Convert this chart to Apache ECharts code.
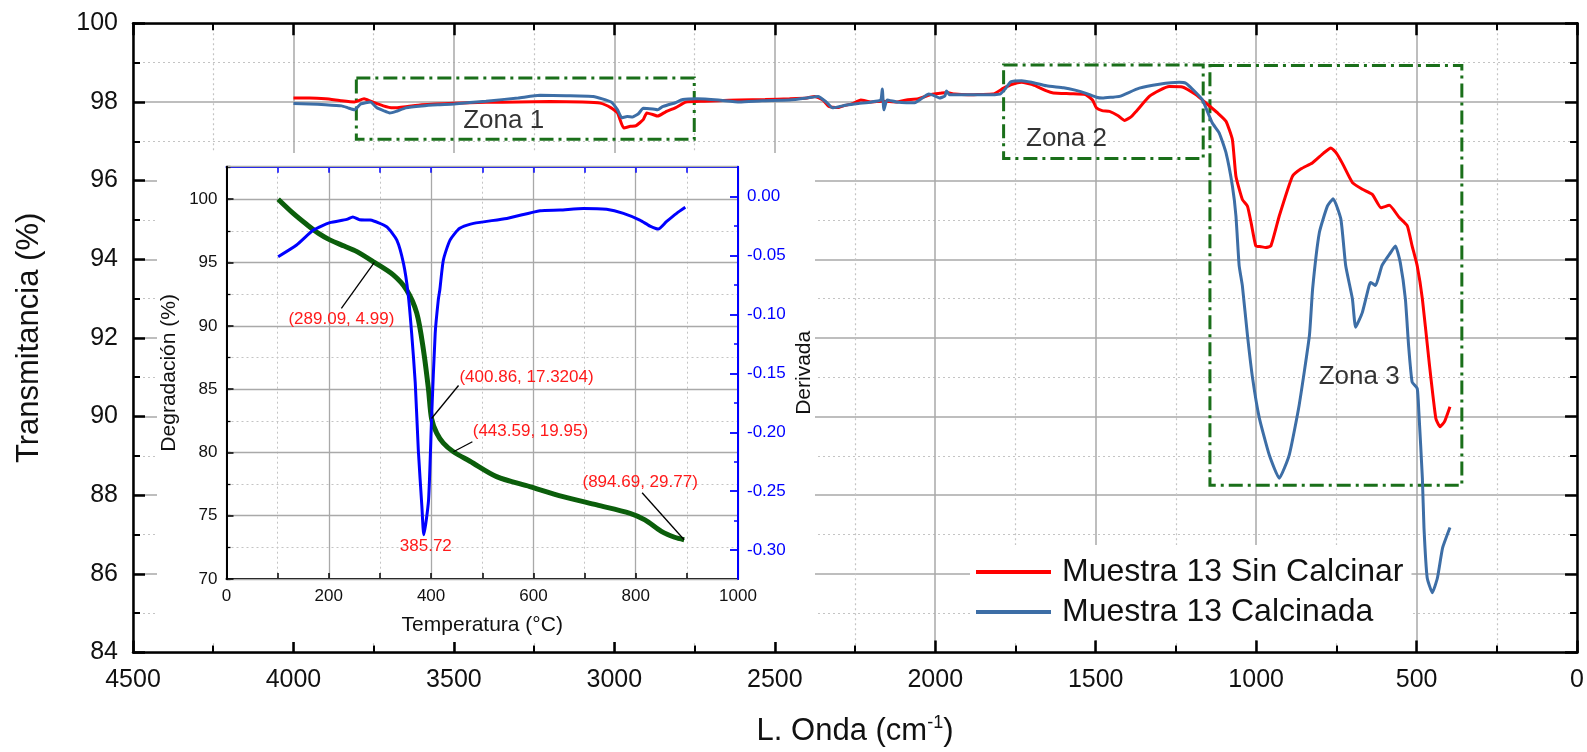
<!DOCTYPE html>
<html>
<head>
<meta charset="utf-8">
<script src="https://cdn.jsdelivr.net/npm/echarts@6/dist/echarts.min.js"></script>
<style>
  html, body { margin: 0; padding: 0; background: #fff; }
  #chart { width: 1587px; height: 752px; }
</style>
</head>
<body>
<div id="chart"></div>
<script>
// ---------- FTIR spectra (wavenumber cm-1, transmittance %) ----------
const seriesNames = ['Muestra 13 Sin Calcinar', 'Muestra 13 Calcinada'];

const waveRed = [4000, 3950, 3900, 3850, 3810, 3780, 3760, 3720, 3690, 3650, 3600, 3500, 3400, 3300, 3200, 3100,
  3044, 3010, 2990, 2971, 2950, 2932, 2910, 2899, 2880, 2865, 2840, 2810, 2777, 2720, 2676, 2610, 2530, 2454,
  2400, 2376, 2350, 2332, 2300, 2287, 2260, 2232, 2200, 2165, 2121, 2090, 2053, 2009, 1985, 1965, 1940, 1898,
  1860, 1820, 1787, 1760, 1731, 1697, 1653, 1632, 1580, 1532, 1510, 1498, 1480, 1457, 1430, 1410, 1390, 1374,
  1333, 1300, 1271, 1230, 1187, 1156, 1120, 1094, 1074, 1063, 1043, 1027, 1015, 1001, 985, 970, 954, 928, 887,
  860, 825, 790, 767, 750, 732, 700, 669, 638, 611, 585, 554, 529, 514, 498, 482, 461, 440, 427, 413, 396];
const transRed = [98.10, 98.10, 98.08, 98.03, 98.00, 98.08, 98.02, 97.90, 97.85, 97.88, 97.93, 97.97, 97.99, 98.00, 98.01, 98.00,
  97.97, 97.85, 97.72, 97.34, 97.38, 97.40, 97.55, 97.72, 97.68, 97.64, 97.75, 97.85, 98.00, 98.02, 98.03, 98.05, 98.06, 98.08,
  98.10, 98.14, 98.05, 97.89, 97.86, 97.90, 97.95, 98.05, 98.00, 98.02, 98.00, 98.05, 98.08, 98.20, 98.22, 98.24, 98.20, 98.18,
  98.19, 98.20, 98.35, 98.45, 98.50, 98.44, 98.28, 98.23, 98.21, 98.19, 98.05, 97.85, 97.78, 97.76, 97.65, 97.53, 97.62, 97.76,
  98.14, 98.30, 98.39, 98.38, 98.18, 97.97, 97.72, 97.51, 97.04, 96.11, 95.52, 95.35, 94.90, 94.34, 94.32, 94.30, 94.34, 95.10, 96.11,
  96.30, 96.45, 96.70, 96.83, 96.70, 96.45, 95.95, 95.78, 95.65, 95.31, 95.37, 95.06, 94.85, 94.34, 93.83, 92.99, 91.39, 89.95, 89.74, 89.87, 90.25];

const waveBlue = [4000, 3950, 3900, 3850, 3830, 3810, 3790, 3760, 3740, 3720, 3700, 3680, 3650, 3600, 3550, 3500, 3400, 3300,
  3232, 3150, 3066, 3010, 2990, 2977, 2960, 2943, 2925, 2910, 2880, 2865, 2850, 2832, 2810, 2787, 2743, 2676, 2610, 2540,
  2454, 2400, 2365, 2340, 2320, 2300, 2276, 2240, 2199, 2170, 2165, 2160, 2150, 2121, 2090, 2064, 2040, 2020, 2000, 1987,
  1970, 1965, 1955, 1898, 1850, 1798, 1780, 1765, 1731, 1700, 1653, 1600, 1564, 1530, 1498, 1479, 1450, 1426, 1364, 1302,
  1240, 1220, 1199, 1168, 1137, 1115, 1094, 1074, 1063, 1053, 1043, 1027, 1011, 990, 959, 928, 897, 866, 834, 824, 803,
  778, 760, 736, 721, 700, 690, 669, 648, 643, 628, 608, 581, 566, 551, 535, 525, 514, 498, 493, 482, 477, 467, 451,
  435, 419, 396];
const transBlue = [97.96, 97.95, 97.93, 97.90, 97.85, 97.80, 97.95, 98.00, 97.85, 97.78, 97.72, 97.76, 97.85, 97.90, 97.93, 97.95, 98.02, 98.10,
  98.17, 98.16, 98.14, 98.00, 97.80, 97.60, 97.63, 97.62, 97.70, 97.84, 97.82, 97.80, 97.88, 97.93, 97.98, 98.06, 98.08, 98.05, 98.00, 98.03,
  98.05, 98.10, 98.14, 98.00, 97.85, 97.88, 97.92, 97.96, 98.00, 98.05, 98.33, 97.80, 98.05, 98.00, 97.98, 97.98, 98.10, 98.20, 98.15, 98.10,
  98.15, 98.28, 98.18, 98.18, 98.18, 98.20, 98.35, 98.51, 98.54, 98.50, 98.41, 98.36, 98.30, 98.22, 98.12, 98.10, 98.12, 98.14, 98.35, 98.45,
  98.50, 98.48, 98.33, 98.06, 97.47, 97.21, 96.71, 95.86, 95.10, 93.84, 93.33, 92.06, 90.97, 89.96, 89.02, 88.43, 89.02, 90.29, 92.06, 93.25, 94.68,
  95.35, 95.54, 95.02, 93.84, 92.99, 92.27, 92.65, 93.33, 93.41, 93.33, 93.84, 94.17, 94.34, 93.92, 92.99, 91.81, 90.88, 90.71, 90.12, 88.43, 87.17, 85.90, 85.52,
  85.90, 86.66, 87.18];

// Spectral zones (dash-dot boxes) and their captions
const zoneNames = ['Zona 1', 'Zona 2', 'Zona 3'];
const zoneWaveFrom = [3804, 1787, 1144];
const zoneWaveTo = [2751, 1165, 359];
const zoneTransLow = [97.05, 96.56, 88.25];
const zoneTransHigh = [98.61, 98.94, 98.93];
const zoneLabelWave = [3345, 1591, 679];
const zoneLabelTrans = [97.53, 97.07, 91.02];

// ---------- TGA inset (temperature °C) ----------
const tempDeg = [101, 130, 157, 180, 202, 230, 255, 289.09, 326, 352, 372, 385, 395, 400.86, 411, 424, 443.59,
  476, 528, 593, 658, 724, 789, 818, 851, 876, 894.69];
const degradacion = [100, 98.9, 98.0, 97.3, 96.79, 96.3, 95.86, 95.01, 94.02, 92.84, 91.0, 88.1, 84.94, 82.68, 81.52, 80.73, 80.05,
  79.3, 78.09, 77.3, 76.51, 75.85, 75.19, 74.67, 73.74, 73.3, 73.1];

const tempDeriv = [101, 137, 170, 202, 235, 247, 260, 281, 313, 333, 346, 355, 362, 369, 375, 382, 385.72, 395, 401, 408, 414,
  417, 424, 437, 456, 483, 548, 613, 652, 698, 743, 776, 808, 828, 844, 860, 880, 897];
const derivada = [-0.0509, -0.041, -0.0283, -0.022, -0.0192, -0.0171, -0.0195, -0.0198, -0.0255, -0.0368, -0.0566, -0.082, -0.116,
  -0.158, -0.215, -0.263, -0.287, -0.2575, -0.187, -0.116, -0.0877, -0.0792, -0.0537, -0.0368, -0.0268, -0.0226, -0.0184, -0.0119,
  -0.0113, -0.0099, -0.0107, -0.0141, -0.0198, -0.0249, -0.0274, -0.0212, -0.0141, -0.009];

const derivTicks = [0, -0.05, -0.10, -0.15, -0.20, -0.25, -0.30];
const derivMinorTicks = [-0.025, -0.075, -0.125, -0.175, -0.225, -0.275];

// Mass-loss callouts: temperature and loss (%)
const annTemp = [289.09, 400.86, 443.59, 894.69];
const annLossText = ['4.99', '17.3204', '19.95', '29.77'];

// ---------- layout / styling ----------
const FONT = '"Liberation Sans", Arial, Helvetica, sans-serif';
const RED = '#ff0000', STEEL = '#3d6ea6', GREEN = '#0b5e0b', BLUE = '#0000ff', ZONE = '#1a6f1a';
const MAJOR_GRID = '#a9a9a9', MINOR_GRID = '#c4c4c4';
// label/leader offsets (px) relative to the point each callout refers to
const calloutLayout = [
  { tx: -33, ty: 57, lx: -33, ly: 46 },
  { tx: 95, ty: -41, lx: 27, ly: -33 },
  { tx: 77, ty: -20, lx: 19, ly: -10 },
  { tx: -44, ty: -57, lx: -42, ly: -47 }
];

const zip = (a, b) => a.map((v, i) => [v, b[i]]);
const plain = v => String(v);

const chart = echarts.init(document.getElementById('chart'), null, { renderer: 'canvas' });

const mainTick = { inside: true, length: 12, lineStyle: { color: '#000', width: 2.5 } };
const mainMinorTick = { show: true, splitNumber: 2, length: 7, lineStyle: { color: '#000', width: 2 } };
const mainSplit = { show: true, lineStyle: { color: MAJOR_GRID, width: 1.5 } };
const mainMinorSplit = { show: true, lineStyle: { color: MINOR_GRID, width: 1.2, type: [2, 3] } };
const mainLine = { show: true, onZero: false, lineStyle: { color: '#000', width: 2.5 } };

const insetGrid = { left: 226.5, top: 166.7, width: 511.5, height: 412.3 };
const insetYMin = 70, insetYMax = 102.57;
const derivMin = -0.3245, derivMax = 0.0255;

const option = {
  backgroundColor: '#fff',
  animation: false,
  textStyle: { fontFamily: FONT },
  grid: [
    { left: 133, right: 9, top: 23.3, bottom: 97, containLabel: false },
    Object.assign({ containLabel: false }, insetGrid)
  ],
  legend: {
    data: seriesNames,
    orient: 'vertical',
    left: 970, top: 545,
    backgroundColor: '#fff',
    padding: [9, 8, 10, 6],
    icon: 'rect',
    itemWidth: 75, itemHeight: 4, itemGap: 4,
    textStyle: { fontSize: 32, fontFamily: FONT, color: '#111', lineHeight: 36, padding: [0, 0, 0, 6] }
  },
  xAxis: [
    {
      type: 'value', gridIndex: 0, min: 0, max: 4500, interval: 500, inverse: true, position: 'bottom',
      axisLine: mainLine, axisTick: mainTick, minorTick: mainMinorTick,
      splitLine: mainSplit, minorSplitLine: mainMinorSplit,
      axisLabel: { fontSize: 25, margin: 15, color: '#111', fontFamily: FONT, showMinLabel: true, showMaxLabel: true, formatter: plain },
      name: '{b|L. Onda (cm}{s|-1}{b|)}', nameLocation: 'middle', nameGap: 62,
      nameTextStyle: { rich: {
        b: { fontSize: 31, fontFamily: FONT, color: '#111', lineHeight: 34 },
        s: { fontSize: 18, fontFamily: FONT, color: '#111', lineHeight: 34, verticalAlign: 'top' }
      } },
      z: 0
    },
    {
      type: 'value', gridIndex: 0, min: 0, max: 4500, interval: 500, inverse: true, position: 'top',
      axisLine: mainLine, axisTick: mainTick, minorTick: mainMinorTick,
      splitLine: { show: false }, axisLabel: { show: false }, z: 0
    },
    {
      type: 'value', gridIndex: 1, min: 0, max: 1000, interval: 200, position: 'bottom',
      axisLine: { show: true, onZero: false, lineStyle: { color: '#000', width: 2 } },
      axisTick: { inside: true, length: 6, lineStyle: { color: '#000', width: 1.5 } },
      minorTick: { show: true, splitNumber: 2, length: 6, lineStyle: { color: '#000', width: 1.5 } },
      splitLine: { show: true, lineStyle: { color: MAJOR_GRID, width: 1.3 } },
      minorSplitLine: { show: true, lineStyle: { color: MINOR_GRID, width: 1, type: [2, 3] } },
      axisLabel: { fontSize: 17, margin: 9, color: '#111', fontFamily: FONT, showMinLabel: true, showMaxLabel: true, formatter: plain },
      name: 'Temperatura (°C)', nameLocation: 'middle', nameGap: 36,
      nameTextStyle: { fontSize: 21, fontFamily: FONT, color: '#111' },
      z: 10
    },
    {
      type: 'value', gridIndex: 1, min: 0, max: 1000, interval: 100, position: 'top',
      axisLine: { show: true, onZero: false, lineStyle: { color: BLUE, width: 2 } },
      axisTick: { inside: true, length: 6, lineStyle: { color: BLUE, width: 1.5 } },
      splitLine: { show: false }, axisLabel: { show: false }, z: 10
    }
  ],
  yAxis: [
    {
      type: 'value', gridIndex: 0, min: 84, max: 100, interval: 2, position: 'left',
      axisLine: mainLine, axisTick: mainTick, minorTick: mainMinorTick,
      splitLine: mainSplit, minorSplitLine: mainMinorSplit,
      axisLabel: { fontSize: 25, margin: 15, color: '#111', fontFamily: FONT, showMinLabel: true, showMaxLabel: true },
      name: 'Transmitancia (%)', nameLocation: 'middle', nameGap: 88, nameRotate: 90,
      nameTextStyle: { fontSize: 31, fontFamily: FONT, color: '#111' },
      z: 0
    },
    {
      type: 'value', gridIndex: 0, min: 84, max: 100, interval: 2, position: 'right',
      axisLine: mainLine, axisTick: mainTick, minorTick: mainMinorTick,
      splitLine: { show: false }, axisLabel: { show: false }, z: 0
    },
    {
      // inset left axis: major grid, labels
      type: 'value', gridIndex: 1, min: insetYMin, max: insetYMax, interval: 5, position: 'left',
      axisLine: { show: true, onZero: false, lineStyle: { color: '#000', width: 2 } },
      axisTick: { inside: true, length: 7, lineStyle: { color: '#000', width: 1.5 } },
      splitLine: { show: true, lineStyle: { color: MAJOR_GRID, width: 1.3 } },
      axisLabel: { fontSize: 17, margin: 9, color: '#111', fontFamily: FONT, showMaxLabel: false },
      name: 'Degradación (%)', nameLocation: 'middle', nameGap: 47, nameRotate: 90,
      nameTextStyle: { fontSize: 21, fontFamily: FONT, color: '#111' },
      z: 11
    },
    {
      // inset left axis: dotted half-step grid and minor ticks
      type: 'value', gridIndex: 1, min: insetYMin, max: insetYMax, interval: 2.5, position: 'left',
      axisLine: { show: false, onZero: false },
      axisTick: { show: true, inside: true, length: 4, lineStyle: { color: '#000', width: 1.3 } },
      splitLine: { show: true, lineStyle: { color: MINOR_GRID, width: 1, type: [2, 3] } },
      axisLabel: { show: false },
      z: 10
    },
    {
      // derivative axis (right)
      type: 'value', gridIndex: 1, min: derivMin, max: derivMax, position: 'right',
      axisLine: { show: true, onZero: false, lineStyle: { color: BLUE, width: 2 } },
      axisTick: { show: true, inside: true, length: 8, customValues: derivTicks, lineStyle: { color: BLUE, width: 1.8 } },
      splitLine: { show: false },
      axisLabel: { fontSize: 17, margin: 9, color: BLUE, fontFamily: FONT, customValues: derivTicks,
        formatter: v => v.toFixed(2) },
      name: 'Derivada', nameLocation: 'middle', nameGap: 56, nameRotate: 90,
      nameTextStyle: { fontSize: 21, fontFamily: FONT, color: '#111' },
      z: 11
    },
    {
      type: 'value', gridIndex: 1, min: derivMin, max: derivMax, position: 'right',
      axisLine: { show: false, onZero: false },
      axisTick: { show: true, inside: true, length: 4, customValues: derivMinorTicks, lineStyle: { color: BLUE, width: 1.5 } },
      splitLine: { show: false }, axisLabel: { show: false },
      z: 11
    }
  ],
  series: [
    {
      name: seriesNames[0], type: 'line', xAxisIndex: 0, yAxisIndex: 0,
      data: zip(waveRed, transRed), showSymbol: false, symbol: 'none', smooth: 0.15,
      lineStyle: { color: RED, width: 3 }, itemStyle: { color: RED }, z: 3,
      markArea: {
        silent: true,
        itemStyle: { color: 'rgba(0,0,0,0)', borderColor: ZONE, borderWidth: 3, borderType: [14, 5, 3, 5] },
        label: { show: false },
        data: zoneNames.map((n, i) => [
          { coord: [zoneWaveFrom[i], zoneTransHigh[i]] },
          { coord: [zoneWaveTo[i], zoneTransLow[i]] }
        ])
      }
    },
    {
      name: seriesNames[1], type: 'line', xAxisIndex: 0, yAxisIndex: 0,
      data: zip(waveBlue, transBlue), showSymbol: false, symbol: 'none', smooth: 0.15,
      lineStyle: { color: STEEL, width: 3 }, itemStyle: { color: STEEL }, z: 3
    },
    {
      name: 'zonas', type: 'scatter', xAxisIndex: 0, yAxisIndex: 0,
      data: zoneNames.map((n, i) => ({ value: [zoneLabelWave[i], zoneLabelTrans[i]], name: n })),
      symbolSize: 1, itemStyle: { color: 'rgba(0,0,0,0)' }, silent: true,
      label: { show: true, position: 'inside', formatter: p => p.name, fontSize: 26, fontFamily: FONT, color: '#000' },
      z: 4
    },
    {
      name: 'derivada', type: 'line', xAxisIndex: 2, yAxisIndex: 4,
      data: zip(tempDeriv, derivada), showSymbol: false, symbol: 'none', smooth: 0.2,
      lineStyle: { color: BLUE, width: 3 }, z: 13
    },
    {
      name: 'degradacion', type: 'line', xAxisIndex: 2, yAxisIndex: 2,
      data: zip(tempDeg, degradacion), showSymbol: false, symbol: 'none', smooth: 0.3,
      lineStyle: { color: GREEN, width: 5 }, z: 12
    }
  ]
};

chart.setOption(option);

// Inset backdrop plus TGA callouts, positioned through the inset's scales
const graphics = [
  { type: 'rect', shape: { x: 157, y: 153, width: 658, height: 489 }, style: { fill: '#fff' }, z: 1, silent: true }
];
const degIdx = 4, derIdx = 3;
annTemp.forEach((t, i) => {
  const k = tempDeg.indexOf(t);
  const p = chart.convertToPixel({ seriesIndex: degIdx }, [t, degradacion[k]]);
  const L = calloutLayout[i];
  graphics.push({
    type: 'line', shape: { x1: p[0], y1: p[1], x2: p[0] + L.lx, y2: p[1] + L.ly },
    style: { stroke: '#000', lineWidth: 1.3 }, z: 30, silent: true
  });
  graphics.push({
    type: 'text', x: p[0] + L.tx, y: p[1] + L.ty,
    style: { text: '(' + t + ', ' + annLossText[i] + ')', fill: '#ff1a1a', font: '17px ' + FONT,
      textAlign: 'center', textVerticalAlign: 'middle' }, z: 30, silent: true
  });
});
// peak of the derivative curve
let m = 0;
derivada.forEach((d, i) => { if (d < derivada[m]) m = i; });
const pk = chart.convertToPixel({ seriesIndex: derIdx }, [tempDeriv[m], derivada[m]]);
graphics.push({
  type: 'text', x: pk[0] + 2, y: pk[1] + 11,
  style: { text: String(tempDeriv[m]), fill: '#ff1a1a', font: '17px ' + FONT, textAlign: 'center', textVerticalAlign: 'middle' },
  z: 30, silent: true
});
chart.setOption({ graphic: { elements: graphics } });
</script>
</body>
</html>
